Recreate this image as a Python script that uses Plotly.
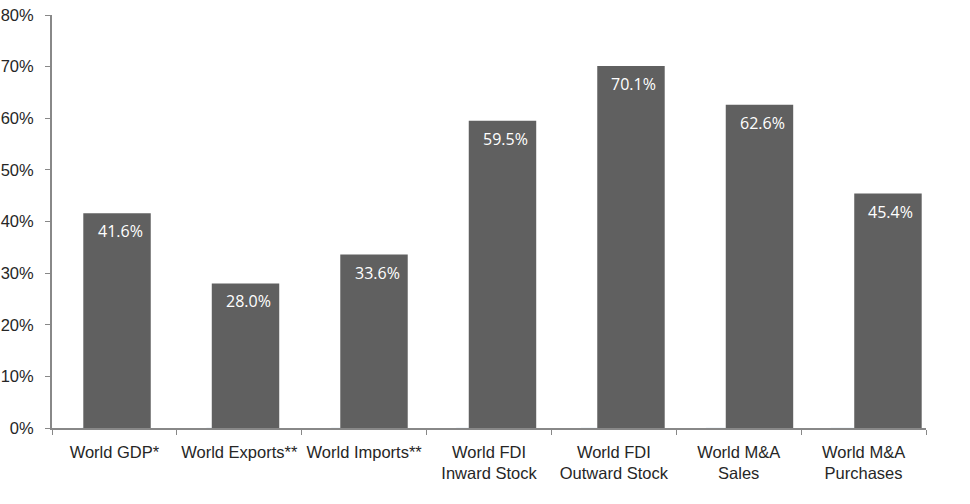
import plotly.graph_objects as go

categories = [
    "World GDP*",
    "World Exports**",
    "World Imports**",
    "World FDI<br>Inward Stock",
    "World FDI<br>Outward Stock",
    "World M&A<br>Sales",
    "World M&A<br>Purchases",
]
values = [41.6, 28.0, 33.6, 59.5, 70.1, 62.6, 45.4]
y_ticks = [0, 10, 20, 30, 40, 50, 60, 70, 80]
y_tick_labels = [f"{v}%" for v in y_ticks]

bar_color = "#606060"
axis_color = "#888888"
text_color = "#262626"
tick_font = dict(family="Liberation Sans, Arial", size=16.5, color=text_color)

fig = go.Figure()

# the bars sit on their own category axis, spaced a little wider than the labelled axis
fig.add_trace(
    go.Bar(
        x=categories,
        y=values,
        xaxis="x2",
        marker=dict(color=bar_color, line=dict(width=0)),
        hoverinfo="skip",
    )
)
# invisible companion trace so the labelled axis carries the categories
fig.add_trace(
    go.Bar(
        x=categories,
        y=[0] * len(categories),
        xaxis="x",
        marker=dict(color="rgba(0,0,0,0)"),
        hoverinfo="skip",
    )
)

# value labels sitting just inside the top of each bar
for cat, val in zip(categories, values):
    fig.add_annotation(
        x=cat,
        y=val,
        xref="x2",
        yref="y",
        text=f"{val:.1f}%",
        showarrow=False,
        yanchor="top",
        yshift=-5,
        xshift=3,
        font=dict(family="Open Sans", size=16, color="white"),
    )

fig.update_layout(
    width=970,
    height=504,
    margin=dict(l=52, r=44, t=15, b=76),
    paper_bgcolor="white",
    plot_bgcolor="white",
    bargap=0.475,
    barmode="overlay",
    showlegend=False,
    font=tick_font,
    xaxis=dict(
        showline=True,
        linecolor=axis_color,
        linewidth=2,
        ticks="outside",
        tickson="boundaries",
        ticklen=5,
        tickcolor=axis_color,
        tickwidth=1,
        showgrid=False,
        automargin=False,
        tickangle=0,
        ticklabelstandoff=8,
        tickfont=tick_font,
    ),
    xaxis2=dict(
        overlaying="x",
        visible=False,
        range=[-0.506, 6.296],
        type="category",
        categoryorder="array",
        categoryarray=categories,
    ),
    yaxis=dict(
        range=[0, 80],
        tickvals=y_ticks,
        ticktext=y_tick_labels,
        showline=True,
        linecolor=axis_color,
        linewidth=2,
        ticks="outside",
        ticklen=5,
        tickcolor=axis_color,
        tickwidth=1,
        showgrid=False,
        zeroline=False,
        automargin=False,
        ticklabelstandoff=8,
        tickfont=tick_font,
    ),
)

fig.write_html("out.html")
